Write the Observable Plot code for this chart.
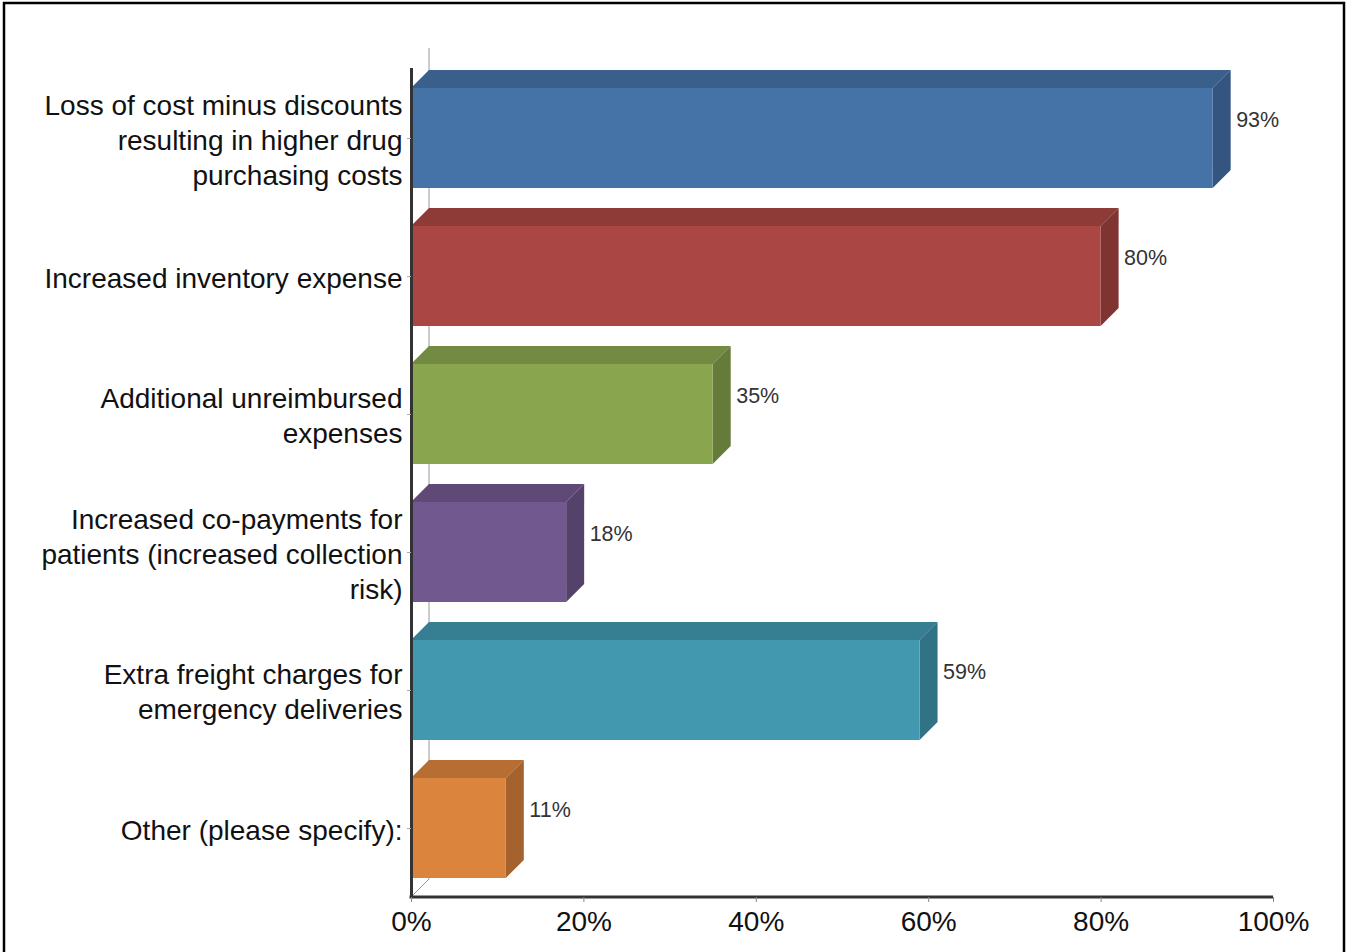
<!DOCTYPE html>
<html>
<head>
<meta charset="utf-8">
<script src="https://cdn.jsdelivr.net/npm/d3@7"></script>
<script src="https://cdn.jsdelivr.net/npm/@observablehq/plot@0.6"></script>
<style>
  html, body { margin: 0; padding: 0; background: #fff; }
  #chart { width: 1347px; height: 952px; overflow: hidden; }
</style>
</head>
<body>
<div id="chart"></div>
<script>
const categories = [
  "Loss of cost minus discounts\nresulting in higher drug\npurchasing costs",
  "Increased inventory expense",
  "Additional unreimbursed\nexpenses",
  "Increased co-payments for\npatients (increased collection\nrisk)",
  "Extra freight charges for\nemergency deliveries",
  "Other (please specify):"
];
const values = [93, 80, 35, 18, 59, 11];
const frontColors = ["#4572A7", "#AA4643", "#89A54E", "#71588F", "#4198AF", "#DB843D"];
const topColors   = ["#3B5F8B", "#8E3A37", "#728A41", "#5E4977", "#367F92", "#B66E33"];
const sideColors  = ["#345580", "#7F3432", "#667B3A", "#55426B", "#317284", "#A4632E"];
const xTicks = [0, 20, 40, 60, 80, 100];

const data = categories.map((c, i) => ({
  category: c, value: values[i], front: frontColors[i], top: topColors[i], side: sideColors[i]
}));

const DEPTH = 18;
const W = 1347, H = 952;

function backdrop(index, scales, vals, dims) {
  const g = d3.create("svg:g");
  const x = scales.x;
  const x0 = x(0);
  const yBottom = dims.height - dims.marginBottom;
  const yTop = dims.marginTop;
  g.append("rect").attr("x", 4).attr("y", 3).attr("width", W - 7).attr("height", H + 20)
    .attr("fill", "none").attr("stroke", "#000").attr("stroke-width", 2.5);
  g.append("line").attr("x1", x0 + DEPTH).attr("x2", x0 + DEPTH)
    .attr("y1", yTop - DEPTH - 2).attr("y2", yBottom - DEPTH)
    .attr("stroke", "#999").attr("stroke-width", 1);
  g.append("line").attr("x1", x0).attr("x2", x0 + DEPTH)
    .attr("y1", yBottom).attr("y2", yBottom - DEPTH)
    .attr("stroke", "#999").attr("stroke-width", 1);
  return g.node();
}

function faces(index, scales, vals, dims) {
  const g = d3.create("svg:g");
  const x = scales.x, y = scales.y;
  const bw = typeof y.bandwidth === "function" ? y.bandwidth() : y.bandwidth;
  const x0 = x(0), d = DEPTH;
  for (const r of data) {
    const y0 = y(r.category), y1 = y0 + bw, x1 = x(r.value);
    g.append("path")
      .attr("d", `M${x0},${y0}L${x0 + d},${y0 - d}L${x1 + d},${y0 - d}L${x1},${y0}Z`)
      .attr("fill", r.top);
    g.append("path")
      .attr("d", `M${x1},${y0}L${x1 + d},${y0 - d}L${x1 + d},${y1 - d}L${x1},${y1}Z`)
      .attr("fill", r.side);
  }
  return g.node();
}

function bottomAxisLine(index, scales, vals, dims) {
  const g = d3.create("svg:g");
  const yb = dims.height - dims.marginBottom;
  g.append("line").attr("x1", scales.x(0) - 1.5).attr("x2", scales.x(100))
    .attr("y1", yb).attr("y2", yb).attr("stroke", "#333").attr("stroke-width", 3);
  return g.node();
}

const chart = Plot.plot({
  width: W,
  height: H,
  marginLeft: 411,
  marginRight: 74,
  marginTop: 68,
  marginBottom: 55,
  style: { fontFamily: "'Liberation Sans', Arial, sans-serif", background: "#fff", color: "#111" },
  x: { domain: [0, 100], axis: null },
  y: { domain: categories, paddingInner: 0.277, paddingOuter: 0.1385, axis: null },
  color: { type: "identity" },
  marks: [
    backdrop,
    faces,
    Plot.barX(data, { x: "value", y: "category", fill: "front" }),
    Plot.ruleX([0], { stroke: "#333", strokeWidth: 3 }),
    bottomAxisLine,
    Plot.axisY({
      tickSize: 4, tickPadding: 5, stroke: "#aaa", fill: "#111",
      fontSize: 28, lineHeight: 1.25, label: null
    }),
    Plot.axisX({
      ticks: xTicks, tickFormat: d => d + "%", tickSize: 5, tickPadding: 9,
      stroke: "#888", fill: "#111", fontSize: 28, label: null
    }),
    Plot.text(data, {
      x: "value", y: "category", text: d => d.value + "%",
      dx: DEPTH + 5, dy: -DEPTH, textAnchor: "start", fontSize: 21.5, fill: "#333"
    })
  ]
});

document.getElementById("chart").appendChild(chart);
</script>
</body>
</html>
